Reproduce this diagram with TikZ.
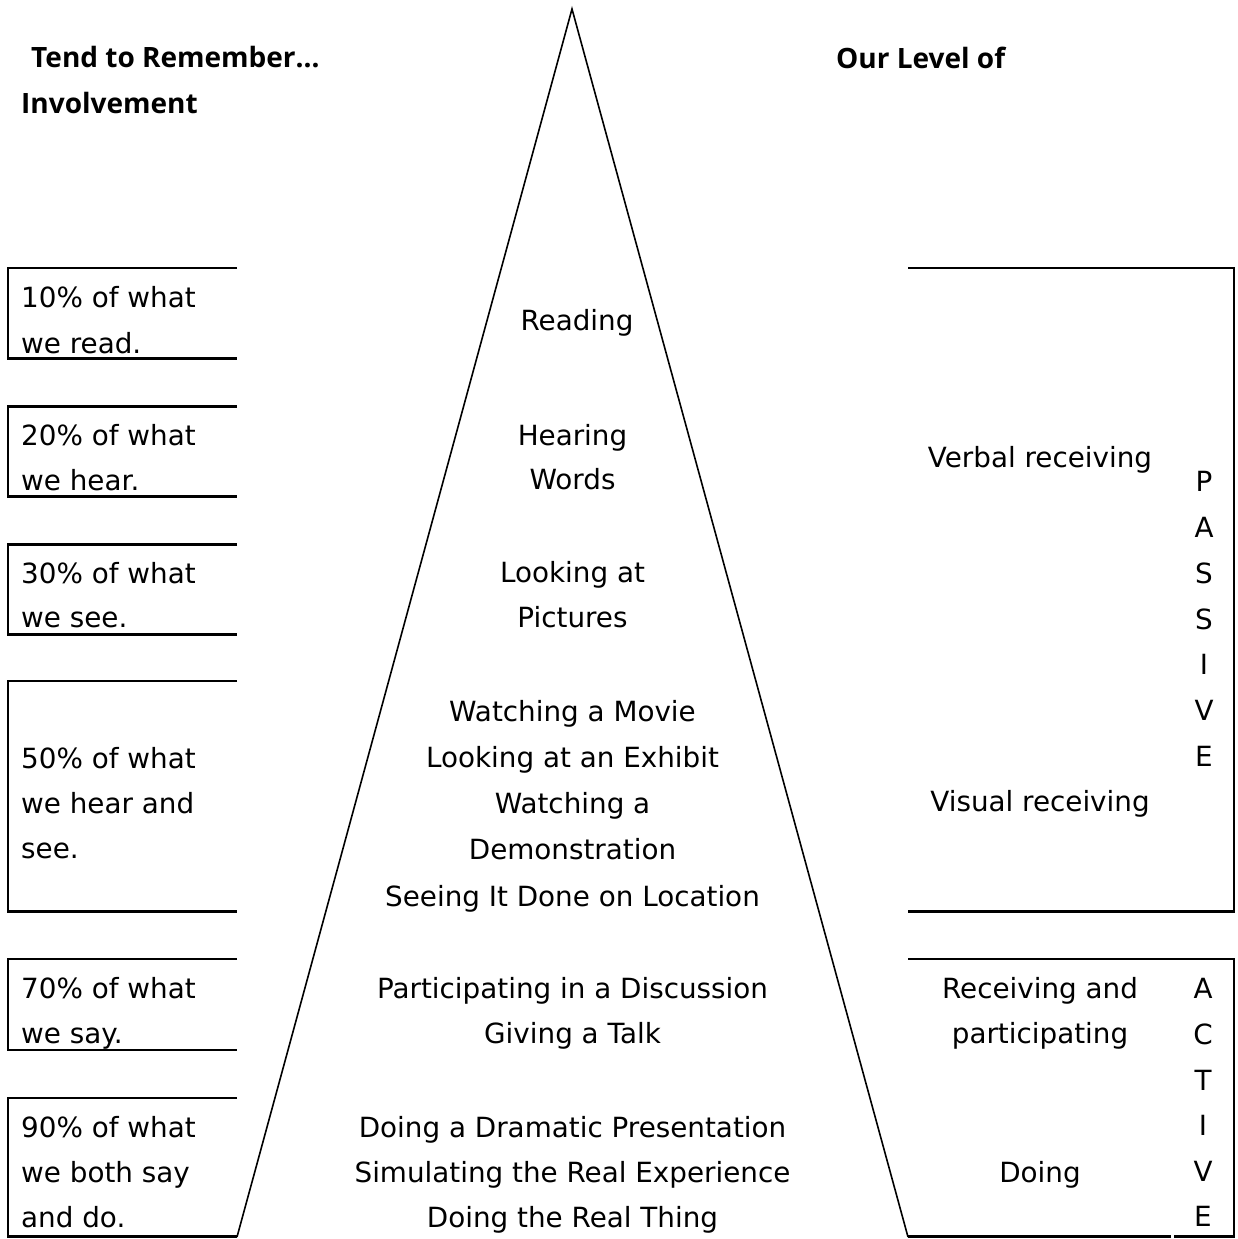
\documentclass[tikz,border=0pt]{standalone}
\usepackage{fontspec}
\setmainfont{DejaVu Sans}
\newfontfamily\headfont{Open Sans}
\begin{document}
\begin{tikzpicture}[x=1pt,y=-1pt,
  txt/.style={anchor=base,inner sep=0pt,font=\fontsize{27.8}{33}\selectfont},
  ltxt/.style={txt,anchor=base west},
  head/.style={anchor=base west,inner sep=0pt,font=\headfont\bfseries\fontsize{28}{33}\selectfont},
  boxline/.style={line width=2.5pt},
  triline/.style={line width=1.6pt,line join=miter}]
\useasboundingbox (0,0) rectangle (1238,1239);
% triangle
\coordinate (apex) at (572,9);
\coordinate (bl) at (237,1237);
\coordinate (br) at (908,1237);
\draw[triline] (bl) -- (apex) -- (br);
% left boxes
\draw[boxline] (237,268) -| (8,358.5) -- (237,358.5);
\draw[boxline] (237,406.5) -| (8,496.5) -- (237,496.5);
\draw[boxline] (237,544.5) -| (8,634.5) -- (237,634.5);
\draw[boxline] (237,681) -| (8,911.5) -- (237,911.5);
\draw[boxline] (237,959) -| (8,1050) -- (237,1050);
\draw[boxline] (237,1098) -| (8,1236.5) -- (237,1236.5);
% right boxes
\draw[boxline] (908,268) -| (1234,911.5) -- (908,911.5);
\draw[boxline] (908,959) -| (1234,1236.5) -- (1174,1236.5);
\draw[boxline] (1171,1236.5) -- (908,1236.5);
% headings
\node[head] (h1) at (31,67) {Tend to Remember…};
\node[head] (h2) at (836,68) {Our Level of};
\node[head] (h3) at (21,113) {Involvement};
% left texts
\node[ltxt] (l1a) at (21,307.5) {10\% of what};
\node[ltxt] (l1b) at (21,353.5) {we read.};
\node[ltxt] (l2a) at (21,445) {20\% of what};
\node[ltxt] (l2b) at (21,490) {we hear.};
\node[ltxt] (l3a) at (21,583) {30\% of what};
\node[ltxt] (l3b) at (21,627.5) {we see.};
\node[ltxt] (l4a) at (21,768) {50\% of what};
\node[ltxt] (l4b) at (21,813) {we hear and};
\node[ltxt] (l4c) at (21,858.5) {see.};
\node[ltxt] (l5a) at (21,998.5) {70\% of what};
\node[ltxt] (l5b) at (21,1043.5) {we say.};
\node[ltxt] (l6a) at (21,1137) {90\% of what};
\node[ltxt] (l6b) at (21,1182) {we both say};
\node[ltxt] (l6c) at (21,1227.5) {and do.};
% centre texts
\node[txt] (c1) at (577,330) {Reading};
\node[txt] (c2a) at (572.5,445) {Hearing};
\node[txt] (c2b) at (572.5,489.5) {Words};
\node[txt] (c3a) at (572.5,582.5) {Looking at};
\node[txt] (c3b) at (572.5,627) {Pictures};
\node[txt] (c4a) at (572.5,721) {Watching a Movie};
\node[txt] (c4b) at (572.5,767) {Looking at an Exhibit};
\node[txt] (c4c) at (572.5,813) {Watching a};
\node[txt] (c4d) at (572.5,859) {Demonstration};
\node[txt] (c4e) at (572.5,906) {Seeing It Done on Location};
\node[txt] (c5a) at (572.5,998.5) {Participating in a Discussion};
\node[txt] (c5b) at (572.5,1043.5) {Giving a Talk};
\node[txt] (c6a) at (572.5,1137) {Doing a Dramatic Presentation};
\node[txt] (c6b) at (572.5,1182) {Simulating the Real Experience};
\node[txt] (c6c) at (572.5,1227.5) {Doing the Real Thing};
% right texts
\node[txt] (r1) at (1040,467) {Verbal receiving};
\node[txt] (r2) at (1040,811) {Visual receiving};
\node[txt] (r3a) at (1040,998.5) {Receiving and};
\node[txt] (r3b) at (1040,1043.5) {participating};
\node[txt] (r4) at (1040,1182.5) {Doing};
% PASSIVE
\node[txt] (p1) at (1204,491) {P};
\node[txt] (p2) at (1204,537) {A};
\node[txt] (p3) at (1204,583) {S};
\node[txt] (p4) at (1204,629) {S};
\node[txt] (p5) at (1204,674.5) {I};
\node[txt] (p6) at (1204,720) {V};
\node[txt] (p7) at (1204,766) {E};
% ACTIVE
\node[txt] (a1) at (1203,998.5) {A};
\node[txt] (a2) at (1203,1044) {C};
\node[txt] (a3) at (1203,1090) {T};
\node[txt] (a4) at (1203,1135.5) {I};
\node[txt] (a5) at (1203,1181) {V};
\node[txt] (a6) at (1203,1226.5) {E};
\end{tikzpicture}
\end{document}
